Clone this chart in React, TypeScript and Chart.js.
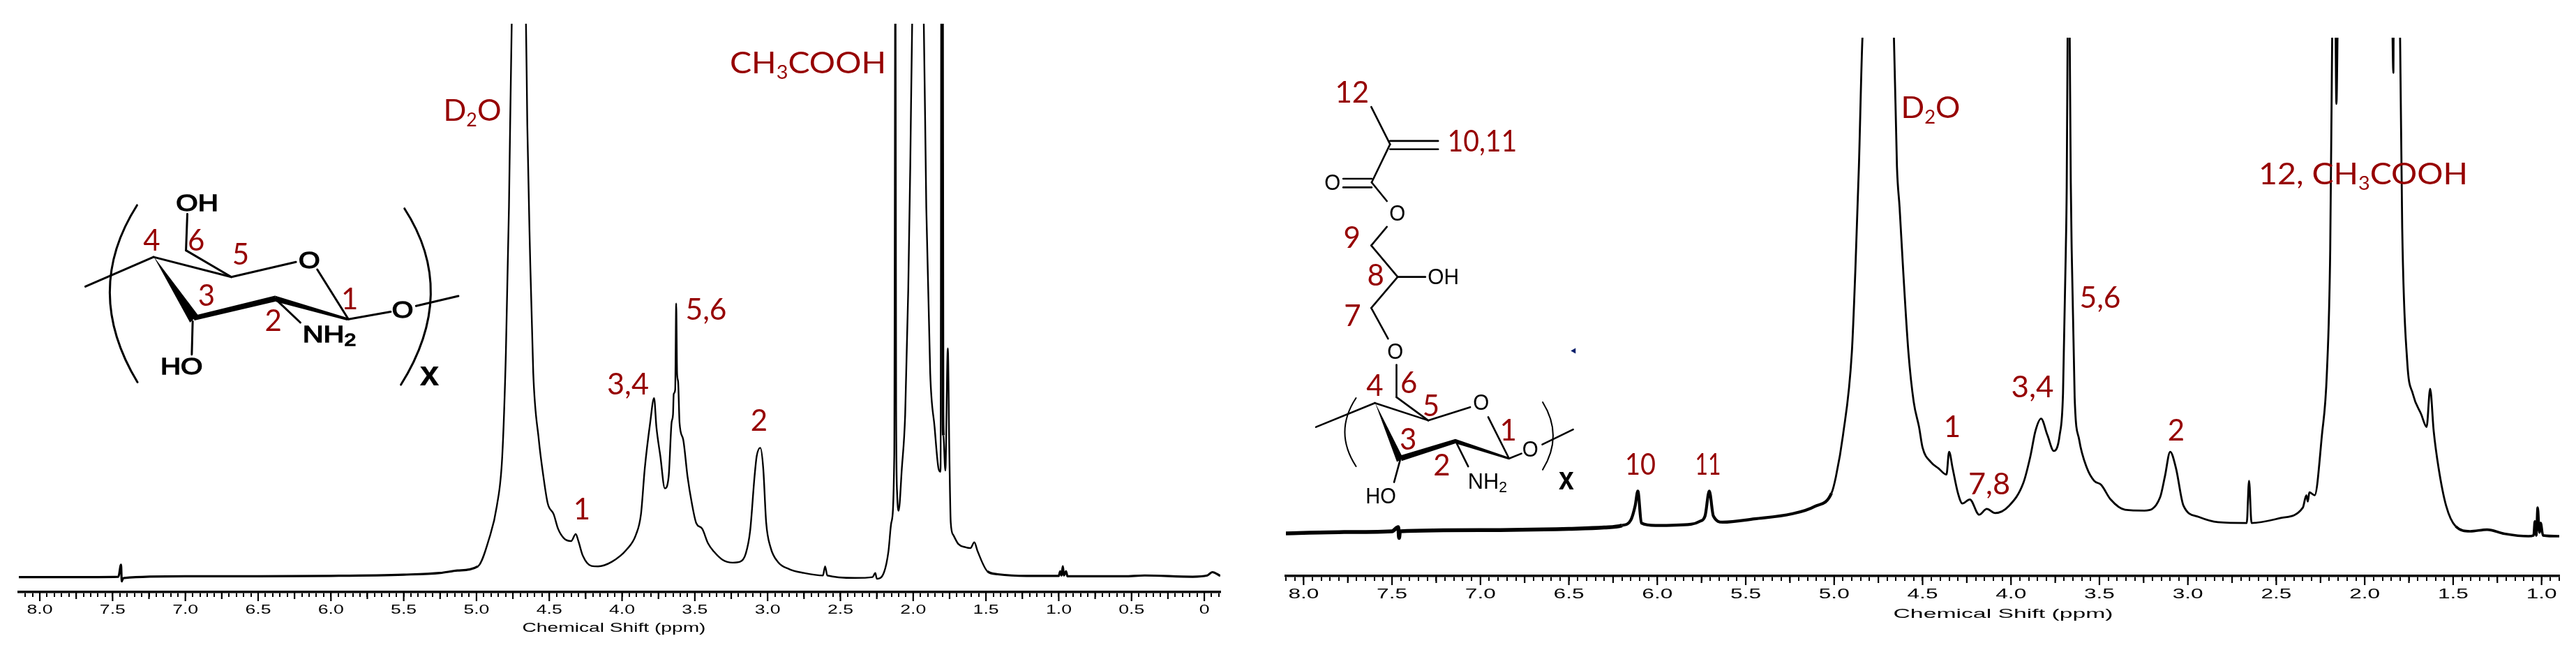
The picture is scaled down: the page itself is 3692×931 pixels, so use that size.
import React, { useEffect, useRef } from "react";
import { Chart, registerables } from "chart.js";

Chart.register(...registerables);

// ---- spectrum A: chitosan ----
const ppmA = [8.144, 7.8, 7.46, 7.442, 7.437, 7.43, 7.42, 7.0, 6.5, 6.0, 5.5, 5.25, 5.13, 4.99, 4.914, 4.86, 4.823, 4.798, 4.777, 4.758, 4.72, 4.66, 4.651, 4.633, 4.61, 4.572, 4.54, 4.51, 4.47, 4.44, 4.4, 4.35, 4.318, 4.3, 4.27, 4.21, 4.165, 4.07, 3.967, 3.905, 3.87, 3.844, 3.807, 3.78, 3.764, 3.737, 3.706, 3.68, 3.66, 3.65, 3.645, 3.635, 3.628, 3.622, 3.615, 3.605, 3.58, 3.55, 3.52, 3.49, 3.45, 3.41, 3.37, 3.31, 3.24, 3.19, 3.15, 3.12, 3.09, 3.075, 3.05, 3.03, 3.01, 2.98, 2.93, 2.85, 2.75, 2.62, 2.605, 2.59, 2.4, 2.28, 2.26, 2.25, 2.2, 2.17, 2.15, 2.13, 2.122, 2.117, 2.11, 2.1, 2.078, 2.055, 2.034, 2.02, 2.007, 1.97, 1.927, 1.91, 1.883, 1.853, 1.826, 1.812, 1.806, 1.8, 1.796, 1.792, 1.779, 1.762, 1.752, 1.742, 1.725, 1.69, 1.64, 1.607, 1.58, 1.557, 1.49, 1.42, 1.22, 1.0, 0.99, 0.98, 0.972, 0.965, 0.95, 0.94, 0.55, 0.41, 0.08, -0.02, -0.055, -0.11];
const intensityA = [0, 0, 1, 30, -10, -4, -2, 2, 2, 3, 6, 10, 16, 26, 92, 172, 292, 542, 892, 1335, 1600, 1335, 1092, 792, 492, 332, 242, 177, 152, 117, 94, 87, 104, 87, 52, 27, 26, 37, 67, 102, 152, 262, 372, 432, 362, 292, 214, 242, 372, 392, 442, 452, 660, 492, 472, 372, 332, 242, 177, 130, 117, 82, 62, 42, 35, 37, 57, 112, 242, 292, 312, 262, 132, 72, 37, 19, 10, 4, 26, 4, -2, 0, 10, -4, 12, 62, 132, 292, 1600, 400, 200, 160, 262, 392, 692, 992, 1335, 1600, 1335, 892, 492, 362, 262, 254, 1600, 1600, 400, 342, 257, 552, 312, 132, 102, 80, 72, 70, 84, 62, 14, 7, 3, 3, 14, 4, 26, 4, 14, 2, 2, 4, 1, 4, 12, 3];

// ---- spectrum B: glycidyl-methacrylate chitosan ----
const ppmB = [8.1, 7.8, 7.5, 7.465, 7.46, 7.455, 7.0, 6.5, 6.3, 6.2, 6.15, 6.125, 6.11, 6.09, 6.01, 5.81, 5.76, 5.73, 5.706, 5.683, 5.63, 5.45, 5.24, 5.11, 5.015, 4.99, 4.95, 4.9, 4.88, 4.86, 4.84, 4.75, 4.662, 4.645, 4.63, 4.61, 4.58, 4.55, 4.52, 4.5, 4.453, 4.41, 4.365, 4.35, 4.33, 4.3, 4.275, 4.233, 4.18, 4.137, 4.09, 4.01, 3.93, 3.89, 3.862, 3.83, 3.794, 3.758, 3.725, 3.706, 3.69, 3.685, 3.68, 3.675, 3.668, 3.662, 3.657, 3.64, 3.615, 3.57, 3.53, 3.49, 3.437, 3.355, 3.245, 3.157, 3.13, 3.1, 3.067, 3.025, 2.94, 2.83, 2.667, 2.654, 2.64, 2.475, 2.35, 2.33, 2.322, 2.313, 2.283, 2.242, 2.214, 2.195, 2.184, 2.172, 2.16, 2.15, 2.0, 1.85, 1.838, 1.835, 1.81, 1.8, 1.788, 1.76, 1.728, 1.68, 1.65, 1.63, 1.61, 1.582, 1.54, 1.486, 1.404, 1.308, 1.21, 1.074, 1.045, 1.038, 1.03, 1.022, 1.012, 1.005, 0.992, 0.9];
const intensityB = [103, 106, 108, 118, 92, 108, 111, 114, 117, 122, 135, 170, 205, 128, 122, 125, 132, 145, 205, 145, 130, 138, 150, 168, 200, 240, 340, 540, 740, 990, 1300, 1700, 1300, 990, 890, 740, 540, 420, 360, 310, 275, 260, 245, 300, 260, 200, 175, 185, 148, 162, 152, 170, 225, 290, 350, 380, 340, 302, 340, 440, 790, 940, 1300, 1700, 1300, 950, 790, 430, 330, 260, 230, 220, 185, 160, 158, 190, 240, 300, 260, 170, 143, 130, 128, 230, 128, 140, 165, 195, 180, 202, 195, 340, 490, 790, 1300, 1700, 1140, 1400, 1700, 1500, 1215, 1500, 1500, 1300, 840, 520, 440, 390, 360, 452, 350, 260, 170, 120, 108, 112, 102, 96, 98, 132, 98, 165, 105, 128, 98, 96];

// ---- axes ----
const tickLabelsA = ["8.0", "7.5", "7.0", "6.5", "6.0", "5.5", "5.0", "4.5", "4.0", "3.5", "3.0", "2.5", "2.0", "1.5", "1.0", "0.5", "0"];
const tickLabelsB = ["8.0", "7.5", "7.0", "6.5", "6.0", "5.5", "5.0", "4.5", "4.0", "3.5", "3.0", "2.5", "2.0", "1.5", "1.0"];
const axisTitle = "Chemical Shift (ppm)";

// ---- annotations, in page pixels: text, centre x, baseline y, width (0 = natural) ----
type Note = [string, number, number, number];
const notesA: Note[] = [
  ["D_2O", 677, 173, 83],
  ["1", 834, 744, 0],
  ["3,4", 900, 565, 60],
  ["5,6", 1012, 458, 59],
  ["2", 1088, 617, 0],
  ["CH_3COOH", 1158, 105, 224],
];
const notesB: Note[] = [
  ["D_2O", 2767, 169, 85],
  ["12, CH_3COOH", 3387, 264, 300],
  ["5,6", 3010, 441, 59],
  ["3,4", 2913, 569, 61],
  ["1", 2798, 626, 0],
  ["2", 3119, 631, 0],
  ["7,8", 2851, 708, 60],
  ["10", 2351, 680, 44],
  ["11", 2448, 680, 37],
];

// ---- structures ----
type Seg = [number, number, number, number];
type Poly = number[];
type Arc = [number, number, number, number, number, number];
type Label = [string, number, number, number];

const bondsA: Seg[] = [
  [192, 691, 345, 620], [345, 620, 520, 668], [520, 668, 665, 632], [713, 650, 783, 770],
  [783, 770, 878, 752], [935, 738, 1030, 714], [520, 668, 418, 604], [418, 604, 421, 516],
  [433, 775, 431, 855], [618, 720, 675, 778],
];
const wedgesA: Poly[] = [
  [345, 618, 445, 760, 427, 778],
  [433, 762, 618, 713, 620, 727, 437, 773],
  [618, 713, 785, 768, 780, 773, 620, 728],
];
const arcsA: Arc[] = [
  [308, 495, 185, 702, 309, 922],
  [909, 503, 1031, 705, 901, 928],
];
const blackA: Label[] = [
  ["OH", 443, 508, 95], ["O", 695, 646, 48], ["O", 905, 766, 48],
  ["NH_2", 740, 825, 120], ["HO", 408, 903, 95],
];
const redA: Label[] = [
  ["4", 341, 604, 0], ["6", 441, 604, 0], ["5", 541, 638, 0],
  ["3", 464, 738, 0], ["2", 614, 798, 0], ["1", 786, 746, 0],
];

const bondsB: Seg[] = [
  [288, 258, 335, 348], [335, 340, 455, 340], [335, 360, 455, 360], [335, 348, 289, 440],
  [218, 431, 289, 431], [218, 452, 289, 452], [289, 440, 327, 485], [327, 547, 288, 592],
  [288, 592, 354, 668], [354, 668, 288, 743], [354, 668, 423, 668], [288, 743, 330, 817],
  [351, 880, 351, 958], [351, 958, 430, 1014], [297, 972, 430, 1014], [430, 1014, 535, 982],
  [580, 1006, 632, 1106], [632, 1106, 663, 1094], [715, 1072, 792, 1036], [150, 1030, 297, 972],
  [360, 1110, 345, 1163], [498, 1063, 530, 1125],
];
const wedgesB: Poly[] = [
  [297, 970, 368, 1106, 352, 1114],
  [360, 1099, 498, 1059, 500, 1069, 364, 1112],
  [498, 1059, 634, 1104, 630, 1108, 500, 1070],
];
const arcsB: Arc[] = [
  [250, 960, 194, 1042, 250, 1125],
  [716, 970, 768, 1051, 716, 1133],
];
const blackB: Label[] = [
  ["O", 191, 458, 40], ["O", 353, 532, 40], ["OH", 468, 686, 78], ["O", 348, 866, 40],
  ["O", 562, 988, 40], ["O", 685, 1102, 40], ["NH_2", 578, 1178, 98], ["HO", 312, 1215, 76],
];
const redB: Label[] = [
  ["12", 240, 248, 0], ["10,11", 565, 365, 174], ["9", 240, 598, 0], ["8", 299, 688, 0],
  ["7", 241, 787, 0], ["6", 382, 948, 0], ["4", 297, 955, 0], ["5", 437, 1003, 0],
  ["1", 630, 1063, 0], ["3", 380, 1085, 0], ["2", 464, 1146, 0],
];

const RED = "#960000";
const INK = "#000000";
const redFont = '400 42px Lato, "Open Sans", sans-serif';
const redSub = '400 26px Lato, "Open Sans", sans-serif';

type Run = { t: string; sub: boolean };
function toRuns(text: string): Run[] {
  const out: Run[] = [];
  for (let i = 0; i < text.length; i++) {
    if (text[i] === "_") {
      out.push({ t: text[i + 1], sub: true });
      i++;
    } else if (out.length && !out[out.length - 1].sub) {
      out[out.length - 1].t += text[i];
    } else {
      out.push({ t: text[i], sub: false });
    }
  }
  return out;
}

function drawText(ctx: CanvasRenderingContext2D, text: string, cx: number, y: number, w: number, font: string, subFont: string, color: string, subDrop: number, stroke = 0) {
  const runs = toRuns(text);
  ctx.save();
  ctx.fillStyle = color;
  ctx.strokeStyle = color;
  ctx.lineWidth = stroke;
  ctx.textAlign = "left";
  ctx.textBaseline = "alphabetic";
  let total = 0;
  for (const r of runs) {
    ctx.font = r.sub ? subFont : font;
    total += ctx.measureText(r.t).width;
  }
  const s = w > 0 ? w / total : 1;
  ctx.translate(cx - (total * s) / 2, y);
  ctx.scale(s, 1);
  let x = 0;
  for (const r of runs) {
    ctx.font = r.sub ? subFont : font;
    ctx.fillText(r.t, x, r.sub ? subDrop : 0);
    if (stroke > 0) ctx.strokeText(r.t, x, r.sub ? subDrop : 0);
    x += ctx.measureText(r.t).width;
  }
  ctx.restore();
}

type Sketch = {
  ox: number; sx: number; sy: number; bond: number; arcWidth: number;
  bonds: Seg[]; wedges: Poly[]; arcs: Arc[]; black: Label[]; red: Label[];
  blackFont: string; blackSub: string; blackStroke: number;
  repeat: Label; repeatFont: string;
};

function drawSketch(ctx: CanvasRenderingContext2D, k: Sketch) {
  const X = (v: number) => v / k.sx + k.ox;
  const Y = (v: number) => v / k.sy;
  ctx.save();
  ctx.strokeStyle = INK;
  ctx.fillStyle = INK;
  ctx.lineCap = "round";
  ctx.lineWidth = k.bond;
  for (const [a, b, c, d] of k.bonds) {
    ctx.beginPath();
    ctx.moveTo(X(a), Y(b));
    ctx.lineTo(X(c), Y(d));
    ctx.stroke();
  }
  for (const p of k.wedges) {
    ctx.beginPath();
    ctx.moveTo(X(p[0]), Y(p[1]));
    for (let i = 2; i < p.length; i += 2) ctx.lineTo(X(p[i]), Y(p[i + 1]));
    ctx.closePath();
    ctx.fill();
  }
  ctx.lineWidth = k.arcWidth;
  for (const [a, b, c, d, e, f] of k.arcs) {
    ctx.beginPath();
    ctx.moveTo(X(a), Y(b));
    ctx.quadraticCurveTo(X(c), Y(d), X(e), Y(f));
    ctx.stroke();
  }
  ctx.restore();
  for (const [t, x, y, w] of k.black) {
    drawText(ctx, t, X(x), Y(y), w / k.sx, k.blackFont, k.blackSub, INK, 5, k.blackStroke);
  }
  drawText(ctx, k.repeat[0], X(k.repeat[1]), Y(k.repeat[2]), k.repeat[3] / k.sx, k.repeatFont, k.repeatFont, INK, 0);
  for (const [t, x, y, w] of k.red) {
    drawText(ctx, t, X(x), Y(y), w / k.sx, redFont, redSub, RED, 8);
  }
}

type PanelCfg = {
  left: number; width: number; areaLeft: number; areaRight: number; areaTop: number; areaBottom: number;
  ppm: number[]; intensity: number[]; ppmMin: number; ppmMax: number; yMin: number; yMax: number;
  tickLabels: string[]; tickFont: string; tickStretch: number; tickBase: number;
  titleX: number; titleW: number; titleBase: number;
  notes: Note[]; sketch: Sketch; widthFor: (ppm: number) => number; marker: boolean;
};

function buildTicks(min: number, max: number) {
  const out: { value: number }[] = [];
  const lo = Math.ceil(min * 20);
  const hi = Math.floor(max * 20);
  for (let i = lo; i <= hi; i++) out.push({ value: i / 20 });
  return out;
}

function makeChart(canvas: HTMLCanvasElement, c: PanelCfg) {
  const paint = {
    id: "paint",
    afterDraw(chart: any) {
      const ctx: CanvasRenderingContext2D = chart.ctx;
      const sc = chart.scales.x;
      const top = sc.top;
      ctx.save();
      ctx.strokeStyle = INK;
      ctx.lineWidth = 2.2;
      for (const t of sc.ticks) {
        const n = Math.round(t.value * 20);
        if (n % 5 !== 0) continue;
        const len = n % 10 === 0 ? 13 : 10;
        const x = sc.getPixelForValue(t.value);
        ctx.beginPath();
        ctx.moveTo(x, top);
        ctx.lineTo(x, top + len);
        ctx.stroke();
      }
      ctx.restore();
      c.tickLabels.forEach((label, i) => {
        const x = sc.getPixelForValue(8 - i * 0.5);
        ctx.save();
        ctx.font = c.tickFont;
        const w = ctx.measureText(label).width;
        ctx.restore();
        drawText(ctx, label, x, c.tickBase, w * c.tickStretch, c.tickFont, c.tickFont, INK, 0);
      });
      drawText(ctx, axisTitle, c.titleX - c.left, c.titleBase, c.titleW, '18px "Liberation Sans", Arial, sans-serif', '18px "Liberation Sans"', INK, 0);
      ctx.save();
      ctx.translate(-c.left, 0);
      for (const [t, x, y, w] of c.notes) drawText(ctx, t, x, y, w, redFont, redSub, RED, 8);
      drawSketch(ctx, c.sketch);
      if (c.marker) {
        const mx = 793 / 1.742 + 1800;
        const my = 846 / 1.684;
        ctx.fillStyle = "#0a1f6b";
        ctx.beginPath();
        ctx.moveTo(mx - 4, my);
        ctx.lineTo(mx + 3, my - 4);
        ctx.lineTo(mx + 3, my + 4);
        ctx.closePath();
        ctx.fill();
      }
      ctx.restore();
    },
  };

  return new Chart(canvas, {
    type: "scatter",
    data: {
      datasets: [
        {
          data: c.ppm.map((x, i) => ({ x, y: c.intensity[i] })),
          showLine: true,
          borderColor: INK,
          borderWidth: 2.5,
          borderJoinStyle: "round",
          pointRadius: 0,
          cubicInterpolationMode: "monotone",
          segment: { borderWidth: (s: any) => c.widthFor(s.p0.parsed.x) },
        } as any,
      ],
    },
    options: {
      animation: false,
      responsive: false,
      devicePixelRatio: 1,
      layout: { padding: { left: c.areaLeft, right: c.width - c.areaRight, top: c.areaTop, bottom: 0 } },
      plugins: { legend: { display: false }, tooltip: { enabled: false }, title: { display: false } },
      scales: {
        x: {
          type: "linear",
          reverse: true,
          min: c.ppmMin,
          max: c.ppmMax,
          afterBuildTicks: (s: any) => { s.ticks = buildTicks(c.ppmMin, c.ppmMax); },
          afterFit: (s: any) => { s.height = 931 - c.areaBottom; s.paddingLeft = 0; s.paddingRight = 0; },
          ticks: { display: false, autoSkip: false },
          grid: { drawOnChartArea: false, drawTicks: true, tickLength: 7, color: INK, lineWidth: 2 },
          border: { display: true, color: INK, width: 3.5 },
        },
        y: { type: "linear", display: false, min: c.yMin, max: c.yMax },
      },
    } as any,
    plugins: [paint],
  });
}

const panelA: PanelCfg = {
  left: 0, width: 1800, areaLeft: 27, areaRight: 1749, areaTop: 34, areaBottom: 848,
  ppm: ppmA, intensity: intensityA, ppmMin: -0.11, ppmMax: 8.144, yMin: -36, yMax: 1335,
  tickLabels: tickLabelsA, tickFont: '18px "Liberation Sans", Arial, sans-serif', tickStretch: 1.48, tickBase: 879,
  titleX: 880, titleW: 263, titleBase: 905, notes: notesA,
  sketch: {
    ox: 0, sx: 1.568, sy: 1.684, bond: 3, arcWidth: 3, bonds: bondsA, wedges: wedgesA, arcs: arcsA, black: blackA, red: redA,
    blackFont: '33px "Liberation Sans", Arial, sans-serif', blackSub: '24px "Liberation Sans", Arial, sans-serif', blackStroke: 1.4,
    repeat: ["x", 965, 930, 44], repeatFont: 'bold 50px "Liberation Sans", Arial, sans-serif',
  },
  widthFor: (p) => (p > 5 || p < 1.5 ? 3.2 : p > 1.795 && p < 1.812 ? 4 : 2.4), marker: false,
};

const panelB: PanelCfg = {
  left: 1800, width: 1892, areaLeft: 43, areaRight: 1868, areaTop: 54, areaBottom: 825,
  ppm: ppmB, intensity: intensityB, ppmMin: 0.9, ppmMax: 8.1, yMin: 0, yMax: 1300,
  tickLabels: tickLabelsB, tickFont: '20px "Liberation Sans", Arial, sans-serif', tickStretch: 1.58, tickBase: 857,
  titleX: 2871, titleW: 315, titleBase: 885, notes: notesB,
  sketch: {
    ox: 1800, sx: 1.742, sy: 1.684, bond: 2.6, arcWidth: 2, bonds: bondsB, wedges: wedgesB, arcs: arcsB, black: blackB, red: redB,
    blackFont: '32px "Liberation Sans", Arial, sans-serif', blackSub: '22px "Liberation Sans", Arial, sans-serif', blackStroke: 0,
    repeat: ["x", 775, 1180, 38], repeatFont: 'bold 46px "Liberation Sans", Arial, sans-serif',
  },
  widthFor: (p) => (p > 6.2 ? 5.5 : p > 5.02 ? 4.2 : p < 1.5 ? 3.6 : 2.8), marker: true,
};

export default function App() {
  const a = useRef<HTMLCanvasElement>(null);
  const b = useRef<HTMLCanvasElement>(null);
  useEffect(() => {
    const charts = [makeChart(a.current!, panelA), makeChart(b.current!, panelB)];
    return () => charts.forEach((c) => c.destroy());
  }, []);
  return (
    <div style={{ position: "absolute", left: 0, top: 0, width: 3692, height: 931, background: "#fff", overflow: "hidden" }}>
      <canvas ref={a} width={panelA.width} height={931} style={{ position: "absolute", left: panelA.left, top: 0, width: panelA.width, height: 931 }} />
      <canvas ref={b} width={panelB.width} height={931} style={{ position: "absolute", left: panelB.left, top: 0, width: panelB.width, height: 931 }} />
    </div>
  );
}
